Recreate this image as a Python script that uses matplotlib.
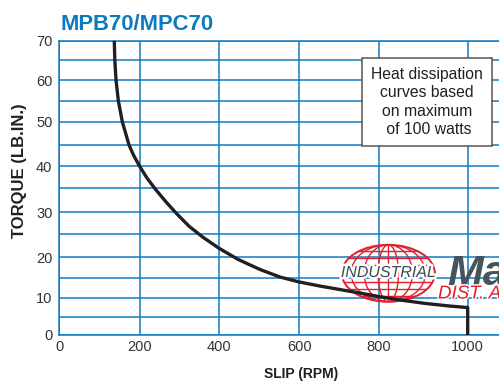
import numpy as np
import matplotlib
matplotlib.use("Agg")
import matplotlib.pyplot as plt
from matplotlib.patches import Ellipse
from matplotlib.transforms import Affine2D
import matplotlib.patheffects as pe

# ---- data ----
slip = [137.0, 138.3, 141.3, 147.0, 156.9, 173.5, 184.6, 199.5, 218.3, 241.0, 266.1, 293.7,
        323.9, 359.0, 400.0, 446.8, 501.8, 551.8, 600.0, 652.1, 702.5, 752.9, 800.0, 847.9,
        904.0, 960.2, 1000.0, 1000.0]
torque = [70.0, 65.0, 60.0, 55.0, 50.0, 45.0, 42.6, 40.0, 37.2, 34.5, 32.1, 29.6,
          26.8, 24.3, 21.9, 19.5, 17.1, 15.3, 14.05, 13.0, 12.1, 11.2, 10.3, 9.4,
          8.5, 7.8, 7.4, 0.0]
x_ticks = [0, 200, 400, 600, 800, 1000]
y_ticks = [0, 10, 20, 30, 40, 50, 60, 70]
y_minor = [5, 15, 25, 35, 45, 55, 65]
title = "MPB70/MPC70"
note = "Heat dissipation\ncurves based\non maximum\n of 100 watts"

# ---- grid calibration of the (hand-drawn) original ----
cal_x_d = np.array([-200, 0, 200, 400, 600, 800, 1000, 1400])
cal_x_p = np.array([-21.7, 59, 139.7, 219.3, 299.3, 378.7, 467.7, 645.7])
cal_y_d = np.array([-10, 0, 5, 10, 15, 20, 25, 30, 35, 40, 45, 50, 55, 60, 65, 70, 80])
_py = np.array([373, 335, 316.7, 297.7, 278.3, 257.3, 234, 212.3, 187.5, 166, 145, 121.7, 100.7, 80, 60, 40.7, 1.7])
cal_y_p = 381 - _py

W, H = 499, 381
fig = plt.figure(figsize=(W / 100, H / 100), dpi=100)
ax = fig.add_axes([59 / W, (H - 335) / H, (W - 59) / W, (335 - 40.7) / H])

ax.set_xscale('function', functions=(lambda v: np.interp(v, cal_x_d, cal_x_p),
                                     lambda p: np.interp(p, cal_x_p, cal_x_d)))
ax.set_yscale('function', functions=(lambda v: np.interp(v, cal_y_d, cal_y_p),
                                     lambda p: np.interp(p, cal_y_p, cal_y_d)))
ax.set_xlim(0, float(np.interp(W, cal_x_p, cal_x_d)))
ax.set_ylim(0, 70)

blue = '#0f7bc2'
ax.set_xticks(x_ticks)
ax.set_yticks(y_ticks)
ax.set_yticks(y_minor, minor=True)
ax.set_xticks([], minor=True)
ax.grid(True, which='both', color=blue, lw=1.1)
ax.set_axisbelow(True)
for s in ['left', 'bottom', 'top']:
    ax.spines[s].set_color(blue)
    ax.spines[s].set_linewidth(1.1)
ax.spines['right'].set_visible(False)
ax.tick_params(axis='both', which='both', length=0, labelsize=10.5, labelcolor='#333333')
ax.tick_params(axis='x', pad=3.6)
ax.tick_params(axis='y', pad=4.7)
for lab in ax.get_xticklabels() + ax.get_yticklabels():
    lab.set_family('Liberation Sans')

# ---- faint logo watermark (figure pixel coordinates) ----
pix = Affine2D().scale(1 / W, -1 / H).translate(0, 1) + fig.transFigure
red = '#e31e2d'
cx, cy, gw, gh = 388.3, 273.3, 93, 57
outer = Ellipse((cx, cy), gw, gh, transform=pix, fill=False, ec=red, lw=1.4, zorder=1.5)
ax.add_patch(outer)
clip = Ellipse((cx, cy), gw, gh, transform=pix, fill=False, ec='none')
ax.add_patch(clip)
for fw in [0.22, 0.52, 0.8]:
    m = Ellipse((cx, cy), gw * fw, gh, transform=pix, fill=False, ec=red, lw=1.0, zorder=1.5)
    ax.add_patch(m)
    m.set_clip_path(clip)
for f in [-0.8, -0.55, -0.3, 0.3, 0.55, 0.8]:
    ln = ax.plot([cx - gw / 2, cx + gw / 2], [cy + f * gh / 2] * 2, color=red, lw=1.0,
                 transform=pix, zorder=1.5)[0]
    ln.set_clip_path(clip)
ln = ax.plot([cx, cx], [cy - gh / 2, cy + gh / 2], color=red, lw=1.0, transform=pix, zorder=1.5)[0]
ln.set_clip_path(clip)
ax.text(cx, 272.5, "INDUSTRIAL", transform=pix, ha='center', va='center', fontsize=11.5,
        style='italic', color='#3d4b53', family='Liberation Sans', zorder=1.6,
        path_effects=[pe.withStroke(linewidth=3.5, foreground='white')])
ax.text(447, 285, "Ma", transform=pix, ha='left', va='baseline', fontsize=31,
        style='italic', weight='bold', color='#46555d', family='Liberation Sans', zorder=1.6)
ax.text(438, 298.5, "DIST. A", transform=pix, ha='left', va='baseline', fontsize=13.5,
        style='italic', color=red, family='Liberation Sans', zorder=1.6,
        path_effects=[pe.withStroke(linewidth=2, foreground='white')])

# ---- curve ----
ax.plot(slip, torque, color='#231f20', lw=2.4, solid_joinstyle='round',
        solid_capstyle='butt', zorder=3, clip_on=False)

# ---- note box ----
ax.text(427, 102, note, transform=pix, ha='center', va='center', multialignment='center',
        fontsize=11.3, family='Liberation Sans', color='#231f20', linespacing=1.27, zorder=4,
        bbox=dict(boxstyle='square,pad=0.6', fc='white', ec='#555555', lw=1.1))

# ---- titles ----
fig.text(60 / W, 1 - 29.5 / H, title, ha='left', va='baseline', fontsize=15.8,
         weight='bold', color='#0b7bc0', family='Liberation Sans')
fig.text(301 / W, 1 - 374 / H, "SLIP (RPM)", ha='center', va='center', fontsize=10,
         weight='bold', color='#231f20', family='Liberation Sans')
fig.text(20 / W, 1 - 171 / H, "TORQUE (LB.IN.)", ha='center', va='center', rotation=90,
         fontsize=12, weight='bold', color='#231f20', family='Liberation Sans')

fig.savefig('out.png', dpi=100)
